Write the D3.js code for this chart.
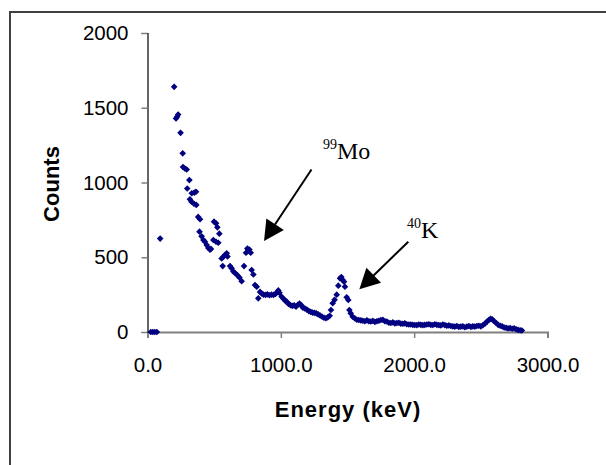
<!DOCTYPE html>
<html>
<head>
  <meta charset="utf-8">
  <title>Gamma spectrum</title>
  <script src="https://d3js.org/d3.v7.min.js"></script>
  <style>
    body { margin: 0; background: #fff; }
    .tick text { font-family: "Liberation Sans", Arial, sans-serif; font-size: 20.5px; fill: #000; }
    .title { font-family: "Liberation Sans", Arial, sans-serif; font-weight: bold; font-size: 22px; }
    .note { font-family: "Liberation Serif", "Times New Roman", serif; }
  </style>
</head>
<body>
  <svg width="606" height="465"></svg>

  <script>
    // Spectrum (energy in keV, counts)
    var energy = [25, 40, 55, 70, 95,
      200, 214, 222, 230, 248, 264, 266, 280, 294, 298, 314, 318, 330, 332, 348,
      351, 364, 366, 380, 390, 394, 406, 419, 431, 444, 456, 469, 476, 494, 499,
      514, 514, 524, 531, 539, 556, 564, 569, 581, 594, 600, 619, 631, 644, 656,
      674, 689, 706, 724, 739, 749, 756, 764, 774, 781, 794, 806, 819, 831, 844,
      856, 870, 885, 900, 915, 930, 945, 960, 975, 981, 990, 1006, 1020, 1032, 1044,
      1058, 1072, 1086, 1100, 1114, 1128, 1140, 1152, 1166, 1180, 1195, 1210, 1224, 1238, 1252,
      1266, 1280, 1295, 1310, 1324, 1338, 1352, 1366, 1376, 1389, 1403, 1419, 1431, 1444, 1454,
      1464, 1474, 1481, 1494, 1506, 1514, 1524, 1539, 1556, 1570, 1585, 1600, 1615, 1630, 1645,
      1660, 1675, 1690, 1705, 1720, 1735, 1750, 1765, 1780, 1795, 1810, 1825, 1840, 1855, 1870,
      1885, 1900, 1915, 1930, 1945, 1960, 1975, 1990, 2005, 2020, 2035, 2050, 2065, 2080, 2095,
      2110, 2125, 2140, 2155, 2170, 2185, 2200, 2215, 2230, 2245, 2260, 2275, 2290, 2305, 2320,
      2335, 2350, 2365, 2380, 2395, 2410, 2425, 2440, 2455, 2470, 2485, 2500, 2515, 2530, 2545,
      2560, 2573, 2585, 2600, 2615, 2630, 2645, 2660, 2675, 2690, 2705, 2720, 2735, 2750, 2765,
      2780, 2795, 2808];
    var counts = [0, 0, 0, 0, 625,
      1640, 1428, 1440, 1455, 1332, 1195, 1104, 1094, 1087, 960, 1016, 888, 872, 928, 858,
      932, 938, 850, 770, 671, 754, 640, 615, 604, 582, 562, 550, 556, 615, 738,
      727, 604, 700, 597, 658, 492, 441, 504, 515, 526, 505, 441, 426, 405, 395,
      380, 365, 340, 441, 530, 558, 548, 552, 530, 415, 385, 314, 303, 225, 268,
      258, 250, 248, 252, 246, 250, 248, 255, 268, 278, 262, 236, 222, 210, 203,
      188, 180, 175, 178, 170, 182, 190, 180, 162, 158, 150, 140, 135, 130, 128,
      125, 118, 110, 102, 95, 92, 98, 108, 147, 192, 215, 250, 310, 359, 368,
      348, 336, 303, 232, 214, 147, 125, 102, 90, 82, 80, 78, 75, 72, 78,
      72, 70, 74, 68, 72, 75, 80, 82, 72, 70, 62, 60, 64, 58, 60,
      62, 56, 55, 58, 52, 50, 50, 48, 47, 46, 50, 48, 46, 48, 50,
      52, 48, 47, 52, 48, 46, 44, 50, 46, 42, 44, 40, 38, 36, 40,
      34, 36, 38, 32, 36, 40, 34, 38, 36, 40, 42, 38, 45, 55, 68,
      80, 88, 85, 72, 60, 48, 42, 38, 30, 28, 24, 26, 22, 24, 18,
      14, 12, 10];

    var xTicks = [0, 1000, 2000, 3000];
    var yTicks = [0, 500, 1000, 1500, 2000];

    // Labels with arrows, in data units
    var notes = [
      { sup: "99", label: "Mo", tx: 1316, ty: 1157, x1: 1230, y1: 1087, x2: 874, y2: 609 },
      { sup: "40", label: "K", tx: 1946, ty: 629, x1: 1956, y1: 604, x2: 1589, y2: 286 }
    ];

    var data = energy.map(function(e, i) { return { e: e, c: counts[i] }; });

    var svg = d3.select("svg");

    // outer chart frame (runs off the right and bottom edges)
    svg.append("rect")
      .attr("x", 10).attr("y", 12)
      .attr("width", 640).attr("height", 500)
      .attr("fill", "none")
      .attr("stroke", "#404040")
      .attr("stroke-width", 2);

    var x = d3.scaleLinear().domain([0, 3000]).range([147.5, 547.5]);
    var y = d3.scaleLinear().domain([0, 2000]).range([332, 33]);

    var xAxis = svg.append("g")
      .attr("transform", "translate(0,332)")
      .call(d3.axisBottom(x).tickValues(xTicks).tickFormat(d3.format(".1f"))
        .tickSizeOuter(0).tickSize(6).tickPadding(19));
    xAxis.select(".domain").attr("stroke", "#808080").attr("stroke-width", 2);
    xAxis.selectAll(".tick line").attr("stroke", "#808080").attr("stroke-width", 1.5);

    var yAxis = svg.append("g")
      .attr("transform", "translate(147.5,0)")
      .call(d3.axisLeft(y).tickValues(yTicks).tickFormat(d3.format("d"))
        .tickSizeOuter(0).tickSize(6).tickPadding(13));
    yAxis.select(".domain").attr("stroke", "#000").attr("stroke-width", 1.2);
    yAxis.selectAll(".tick line").attr("stroke", "#808080").attr("stroke-width", 1.5);

    // axis titles
    svg.append("text")
      .attr("class", "title")
      .attr("x", 348).attr("y", 417)
      .attr("text-anchor", "middle")
      .style("letter-spacing", "1px")
      .text("Energy (keV)");

    svg.append("text")
      .attr("class", "title")
      .attr("transform", "translate(59,184) rotate(-90)")
      .attr("text-anchor", "middle")
      .text("Counts");

    // points
    svg.append("g")
      .selectAll("path")
      .data(data)
      .enter()
      .append("path")
      .attr("d", d3.symbol().type(d3.symbolSquare).size(22))
      .attr("transform", function(d) {
        return "translate(" + x(d.e) + "," + y(d.c) + ") rotate(45)";
      })
      .attr("fill", "#000080");

    // annotations
    var ann = svg.append("g").selectAll("g").data(notes).enter().append("g");

    ann.each(function(d) {
      var g = d3.select(this);
      var sx = x(d.x1), sy = y(d.y1), tx = x(d.x2), ty = y(d.y2);
      var dx = tx - sx, dy = ty - sy, len = Math.sqrt(dx * dx + dy * dy);
      var ux = dx / len, uy = dy / len;
      var headLen = 20, headW = 10.5;
      var bx = tx - ux * headLen, by = ty - uy * headLen;

      g.append("line")
        .attr("x1", sx).attr("y1", sy)
        .attr("x2", bx + ux * 2).attr("y2", by + uy * 2)
        .attr("stroke", "#000").attr("stroke-width", 2);

      g.append("path")
        .attr("d", "M" + tx + "," + ty +
          "L" + (bx - uy * headW) + "," + (by + ux * headW) +
          "L" + (bx + uy * headW) + "," + (by - ux * headW) + "Z")
        .attr("fill", "#000");

      var t = g.append("text")
        .attr("class", "note")
        .attr("x", x(d.tx)).attr("y", y(d.ty));
      t.append("tspan").attr("font-size", "14px").attr("dy", -10).text(d.sup);
      t.append("tspan").attr("font-size", "24px").attr("dy", 10).text(d.label);
    });
  </script>
</body>
</html>
